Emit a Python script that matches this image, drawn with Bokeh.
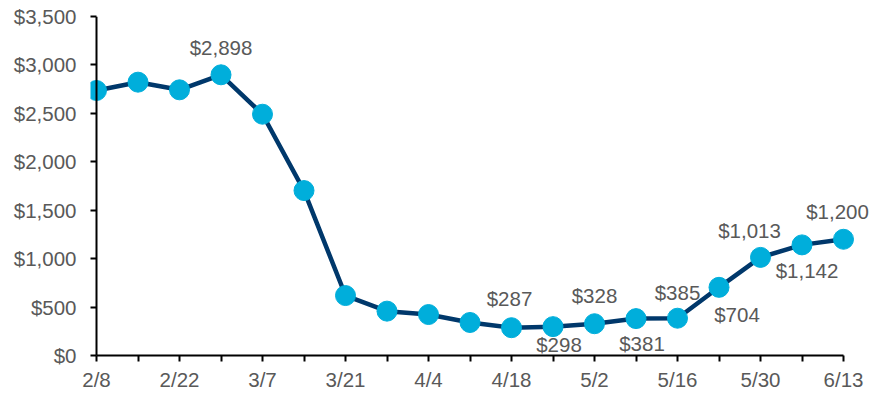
from bokeh.plotting import figure
from bokeh.models import (ColumnDataSource, Range1d, FixedTicker, NumeralTickFormatter, Span)
from bokeh.core.properties import value
from bokeh.embed import file_html
from bokeh.resources import INLINE

# Weekly values, 2/8 through 6/13
weeks = ["2/8", "2/15", "2/22", "2/29", "3/7", "3/14", "3/21", "3/28", "4/4", "4/11",
         "4/18", "4/25", "5/2", "5/9", "5/16", "5/23", "5/30", "6/6", "6/13"]
values = [2736, 2822, 2743, 2898, 2491, 1703, 619, 458, 423, 341,
          287, 298, 328, 381, 385, 704, 1013, 1142, 1200]

# Weeks that carry a value label
labeled_weeks = ["2/29", "4/18", "4/25", "5/2", "5/9", "5/16", "5/23", "5/30", "6/6", "6/13"]
y_ticks = [0, 500, 1000, 1500, 2000, 2500, 3000, 3500]

# pixel offsets of each value label from its point
label_dx = [0, -2, 6, 0, 6, 0, 18, -11, 5, -6]
label_dy = [-27, -29, 18, -28, 25, -26, 27, -27, 26, -28]

FONT = "Liberation Sans"
FONT_SIZE = "20.5px"
GREY = "#595959"
NAVY = "#00386B"
CYAN = "#00AEDB"

xs = list(range(len(weeks)))
src = ColumnDataSource(dict(x=xs, y=values))

lab_x = [weeks.index(w) for w in labeled_weeks]
lab_y = [values[i] for i in lab_x]
lab_src = ColumnDataSource(dict(
    x=lab_x, y=lab_y,
    text=[f"${v:,}" for v in lab_y],
    dx=label_dx, dy=label_dy,
))

px_per_week = 41.5
left_pad = 6 / px_per_week
frame_w = 874 - 90 - 2

p = figure(width=874, height=394, output_backend="svg", toolbar_location=None,
           x_range=Range1d(-left_pad, -left_pad + frame_w / px_per_week),
           y_range=Range1d(0, 3500),
           min_border_left=90, min_border_right=2, min_border_top=16, min_border_bottom=39)
p.outline_line_color = None
p.xgrid.visible = False
p.ygrid.visible = False
p.background_fill_color = "white"
p.border_fill_color = "white"

# x axis: a tick every week, label every other week
p.xaxis.bounds = (0, len(weeks) - 1)
p.xaxis.ticker = FixedTicker(ticks=xs)
p.xaxis.major_label_overrides = {i: (w if i % 2 == 0 else "") for i, w in enumerate(weeks)}
p.xaxis.minor_tick_line_color = None
p.xaxis.major_tick_in = 0
p.xaxis.major_tick_out = 6
p.xaxis.axis_line_color = "black"
p.xaxis.axis_line_width = 2
p.xaxis.major_tick_line_color = "black"
p.xaxis.major_tick_line_width = 2
p.xaxis.major_label_text_font = FONT
p.xaxis.major_label_text_font_size = FONT_SIZE
p.xaxis.major_label_text_color = GREY
p.xaxis.major_label_standoff = 6

# y axis: ticks drawn toward the first week, axis line as a span at 2/8
p.yaxis.ticker = FixedTicker(ticks=y_ticks)
p.yaxis.formatter = NumeralTickFormatter(format="$0,0")
p.yaxis.minor_tick_line_color = None
p.yaxis.axis_line_color = None
p.yaxis.major_tick_in = 6
p.yaxis.major_tick_out = 0
p.yaxis.major_tick_line_color = "black"
p.yaxis.major_tick_line_width = 2
p.yaxis.major_label_text_font = FONT
p.yaxis.major_label_text_font_size = FONT_SIZE
p.yaxis.major_label_text_color = GREY
p.yaxis.major_label_standoff = 14

p.add_layout(Span(location=0, dimension="height", line_color="black", line_width=2))

p.line("x", "y", source=src, line_color=NAVY, line_width=4.5)
p.scatter("x", "y", source=src, size=20, fill_color=CYAN, line_color=CYAN)

p.text("x", "y", text="text", source=lab_src, x_offset="dx", y_offset="dy",
       text_align="center", text_baseline="middle",
       text_font=value(FONT), text_font_size=value(FONT_SIZE), text_color=GREY)

open("out.html", "w").write(file_html(p, INLINE))
